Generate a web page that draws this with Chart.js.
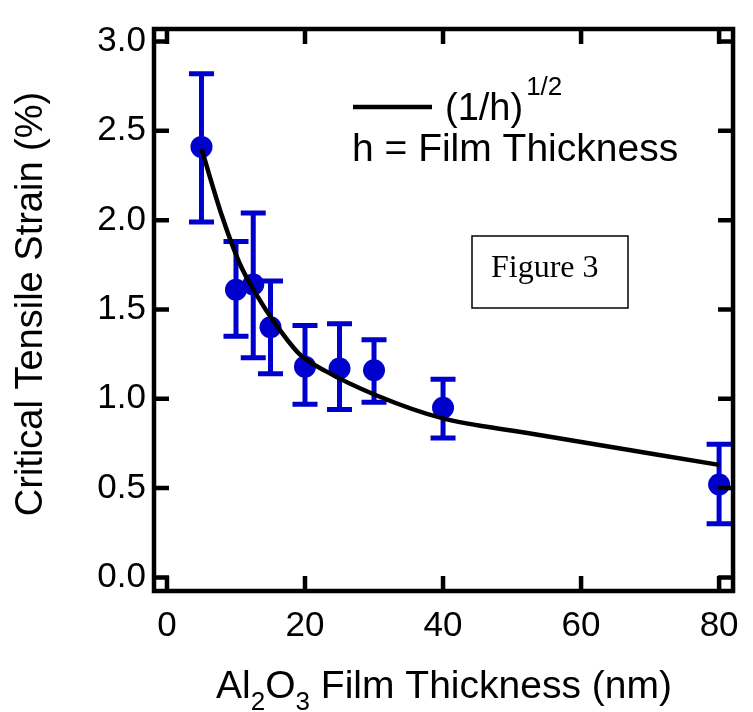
<!DOCTYPE html>
<html>
<head>
<meta charset="utf-8">
<script src="https://cdn.jsdelivr.net/npm/chart.js@4"></script>
<style>
  html, body { margin: 0; padding: 0; background: #ffffff; }
  #grafica { display: block; }
</style>
</head>
<body>
<canvas id="grafica" width="753" height="712"></canvas>
<script>
/* ===== DATA ===== */

// measured points (nm, %)
const THICKNESS   = [5, 10, 12.5, 15, 20, 25, 30, 40, 80];
const STRAIN      = [2.41, 1.61, 1.64, 1.40, 1.18, 1.17, 1.16, 0.95, 0.52];
const STRAIN_HIGH = [2.82, 1.88, 2.04, 1.66, 1.41, 1.42, 1.33, 1.11, 0.745];
const STRAIN_LOW  = [1.99, 1.35, 1.23, 1.14, 0.97, 0.94, 0.98, 0.78, 0.30];

// (1/h)^1/2 curve
const FIT_X = [5, 8, 10.5, 13, 15.8, 19.2, 23, 30.3, 40, 52, 80];
const FIT_Y = [2.40, 2.02, 1.76, 1.58, 1.415, 1.25, 1.155, 1.02, 0.89, 0.81, 0.63];

const X_TICKS = [0, 20, 40, 60, 80];
const Y_TICKS = [0, 0.5, 1.0, 1.5, 2.0, 2.5, 3.0];

/* ===== STYLE ===== */

const FONT  = "'Liberation Sans', Arial, sans-serif";
const BLUE  = "#0000cc";
const FRAME = 4.5;

Chart.defaults.font.family = FONT;
Chart.defaults.color = "#000000";

/* ===== PLUGIN: error bars ===== */

const errorBars = {
  id: "errorBars",
  beforeDatasetsDraw(chart) {
    const { ctx, scales } = chart;
    ctx.save();
    ctx.strokeStyle = BLUE;
    ctx.lineWidth = 5;
    THICKNESS.forEach(function(t, i) {
      const x  = scales.x.getPixelForValue(t);
      const y1 = scales.y.getPixelForValue(STRAIN_HIGH[i]);
      const y2 = scales.y.getPixelForValue(STRAIN_LOW[i]);
      ctx.beginPath();
      ctx.moveTo(x, y1); ctx.lineTo(x, y2);
      ctx.moveTo(x - 12.5, y1); ctx.lineTo(x + 12.5, y1);
      ctx.moveTo(x - 12.5, y2); ctx.lineTo(x + 12.5, y2);
      ctx.stroke();
    });
    ctx.restore();
  },
};

/* ===== PLUGIN: frame, inner ticks, titles, annotations ===== */

const decor = {
  id: "decor",
  afterDraw(chart) {
    const { ctx, chartArea: a, scales } = chart;
    ctx.save();

    // frame + mirrored inward ticks
    ctx.strokeStyle = "#000";
    ctx.lineWidth = FRAME;
    ctx.lineCap = "butt";
    ctx.strokeRect(a.left, a.top, a.right - a.left, a.bottom - a.top);
    ctx.beginPath();
    Y_TICKS.forEach(function(v) {
      const y = scales.y.getPixelForValue(v);
      ctx.moveTo(a.left, y);  ctx.lineTo(a.left + 15, y);
      ctx.moveTo(a.right, y); ctx.lineTo(a.right - 15, y);
    });
    X_TICKS.forEach(function(v) {
      const x = scales.x.getPixelForValue(v);
      ctx.moveTo(x, a.bottom); ctx.lineTo(x, a.bottom - 15);
      ctx.moveTo(x, a.top);    ctx.lineTo(x, a.top + 15);
    });
    ctx.stroke();

    ctx.fillStyle = "#000";

    // y title
    ctx.save();
    ctx.translate(32, 304);
    ctx.rotate(-Math.PI / 2);
    ctx.font = "38px " + FONT;
    ctx.textAlign = "center";
    ctx.textBaseline = "middle";
    ctx.fillText("Critical Tensile Strain (%)", 0, 0);
    ctx.restore();

    // x title with subscripts
    const parts = [
      { t: "Al", sub: false }, { t: "2", sub: true },
      { t: "O", sub: false },  { t: "3", sub: true },
      { t: " Film Thickness (nm)", sub: false },
    ];
    ctx.textBaseline = "alphabetic";
    ctx.textAlign = "left";
    let total = 0;
    parts.forEach(function(p) {
      ctx.font = (p.sub ? "26px " : "39px ") + FONT;
      p.w = ctx.measureText(p.t).width;
      total += p.w;
    });
    let xx = 444 - total / 2;
    parts.forEach(function(p) {
      ctx.font = (p.sub ? "26px " : "39px ") + FONT;
      ctx.fillText(p.t, xx, p.sub ? 710 : 698);
      xx += p.w;
    });

    // legend
    ctx.lineWidth = 4.5;
    ctx.beginPath();
    ctx.moveTo(353, 107); ctx.lineTo(432, 107);
    ctx.stroke();
    ctx.font = "38px " + FONT;
    ctx.fillText("(1/h)", 445, 120);
    const w = ctx.measureText("(1/h)").width;
    ctx.font = "26px " + FONT;
    ctx.fillText("1/2", 445 + w + 3, 95);
    ctx.font = "39px " + FONT;
    ctx.fillText("h = Film Thickness", 352, 161);

    // Figure 3 box
    ctx.lineWidth = 1.5;
    ctx.strokeRect(472, 236, 156, 72);
    ctx.font = "32px 'Liberation Serif', 'Times New Roman', serif";
    ctx.fillText("Figure 3", 491, 277);

    ctx.restore();
  },
};

/* ===== CHART ===== */

function inicializar() {
  const lienzo = document.getElementById("grafica");

  new Chart(lienzo, {
    type: "scatter",
    data: {
      datasets: [
        {
          type: "line",
          data: FIT_X.map(function(x, i) { return { x: x, y: FIT_Y[i] }; }),
          borderColor: "#000000",
          borderWidth: 4.5,
          pointRadius: 0,
          cubicInterpolationMode: "monotone",
          fill: false,
          order: 0,
        },
        {
          data: THICKNESS.map(function(x, i) { return { x: x, y: STRAIN[i] }; }),
          backgroundColor: BLUE,
          borderWidth: 0,
          pointRadius: 11,
          order: 1,
        },
      ],
    },
    options: {
      responsive: false,
      animation: false,
      layout: { padding: { left: 0, top: 12, right: 18, bottom: 0 } },
      plugins: {
        legend:  { display: false },
        tooltip: { enabled: false },
      },
      scales: {
        x: {
          type: "linear",
          min: -1.88,
          max: 82.02,
          grid:   { display: false, drawTicks: false },
          border: { display: false },
          afterBuildTicks: function(s) { s.ticks = X_TICKS.map(function(v) { return { value: v }; }); },
          afterFit: function(s) { s.height = 121; },
          ticks: {
            padding: 14,
            maxRotation: 0,
            font: { size: 35 },
            color: "#000",
            callback: function(v) { return String(v); },
          },
        },
        y: {
          type: "linear",
          min: -0.076,
          max: 3.07,
          grid:   { display: false, drawTicks: false },
          border: { display: false },
          afterBuildTicks: function(s) { s.ticks = Y_TICKS.map(function(v) { return { value: v }; }); },
          afterFit: function(s) { s.width = 154; },
          ticks: {
            padding: 8,
            font: { size: 35 },
            color: "#000",
            callback: function(v) { return Number(v).toFixed(1); },
          },
        },
      },
    },
    plugins: [errorBars, decor],
  });
}

document.addEventListener("DOMContentLoaded", inicializar);
</script>
</body>
</html>
